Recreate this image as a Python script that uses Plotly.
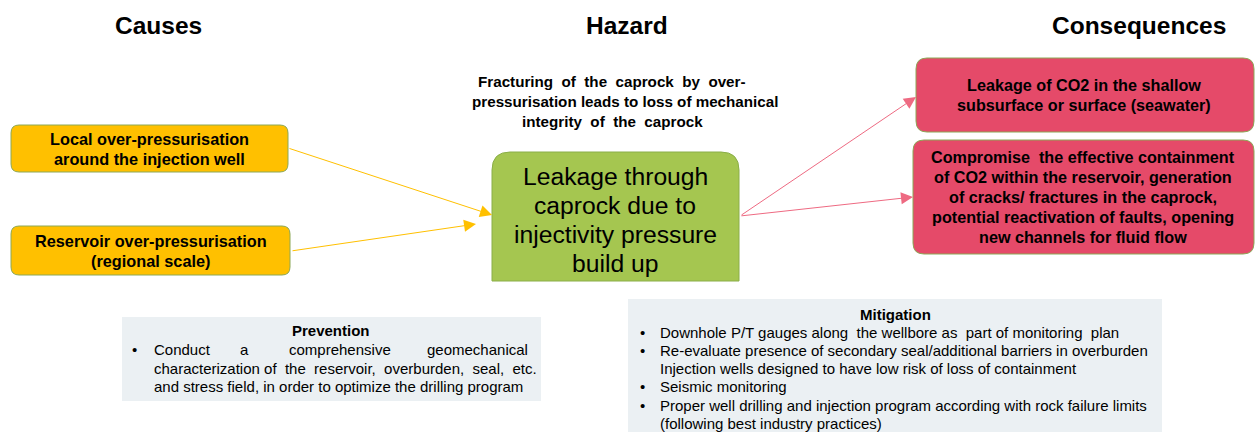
import plotly.graph_objects as go

W, H = 1256, 432
FONT = "Liberation Sans, Arial, sans-serif"

# ---- content ----
HEADERS = ["Causes", "Hazard", "Consequences"]
CAUSES = [
    ["Local over-pressurisation", "around the injection well"],
    ["Reservoir over-pressurisation", "(regional scale)"],
]
HAZARD_NOTE = [
    "Fracturing of the caprock by over-",
    "pressurisation leads to loss of mechanical",
    "integrity of the caprock",
]
TOP_EVENT = ["Leakage through", "caprock due to", "injectivity pressure", "build up"]
CONSEQUENCES = [
    ["Leakage of CO2 in the shallow", "subsurface or surface (seawater)"],
    ["Compromise  the effective containment",
     "of CO2 within the reservoir, generation",
     "of cracks/ fractures in the caprock,",
     "potential reactivation of faults, opening",
     "new channels for fluid flow"],
]
PREVENTION_TITLE = "Prevention"
PREVENTION_FIRST = ["Conduct", "a", "comprehensive", "geomechanical"]
PREVENTION_REST = [
    "characterization of the reservoir, overburden, seal, etc.",
    "and stress field, in order to optimize the drilling program",
]
MITIGATION_TITLE = "Mitigation"
MITIGATION = [
    ["Downhole P/T gauges along the wellbore as part of monitoring plan"],
    ["Re-evaluate presence of secondary seal/additional barriers in overburden",
     "Injection wells designed to have low risk of loss of containment"],
    ["Seismic monitoring"],
    ["Proper well drilling and injection program according with rock failure limits",
     "(following best industry practices)"],
]

# ---- layout (pixels, y down) ----
HEADER_X = [158, 627, 1139]
CAUSE_BOX = [(11, 125, 288, 172), (11, 226, 290, 275)]
TOP_BOX = (492, 152, 739, 281)
CONS_BOX = [(916, 58, 1254, 132), (913, 140, 1254, 254)]
PREV_BOX = (122, 317, 541, 401)
MIT_BOX = (628, 299, 1162, 440)

YELLOW, GREEN, RED, PANEL = "#FFC000", "#A5C650", "#E54A69", "#EBF0F3"
EDGE = "#8CA857"


def rrect(box, r, square_bottom=False):
    x0, y0, x1, y1 = box
    rb = 0 if square_bottom else r
    return (f"M{x0+r},{y0} L{x1-r},{y0} Q{x1},{y0} {x1},{y0+r} "
            f"L{x1},{y1-rb} Q{x1},{y1} {x1-rb},{y1} L{x0+rb},{y1} "
            f"Q{x0},{y1} {x0},{y1-rb} L{x0},{y0+r} Q{x0},{y0} {x0+r},{y0} Z")


def spread(text, extra):
    # widen word gaps a little (the source slide uses loose word spacing)
    words = text.split(" ")
    g = len(words) - 1
    if g <= 0 or extra <= 0:
        return text
    out = words[0]
    for i in range(g):
        add = (i + 1) * extra // g - i * extra // g
        out += " " * (1 + add) + words[i + 1]
    return out


fig = go.Figure()
shapes = []
ann = []


def label(x, y, text, size, bold=False, xanchor="center"):
    t = f"<b>{text}</b>" if bold else text
    ann.append(dict(x=x, y=y, text=t, showarrow=False, xanchor=xanchor,
                    yanchor="middle", font=dict(family=FONT, size=size, color="#000")))


def block(lines, x, y0, dy, size, bold=False):
    for i, ln in enumerate(lines):
        label(x, y0 + i * dy, ln, size, bold)


def arrow(tail, tip, color):
    ann.append(dict(x=tip[0], y=tip[1], ax=tail[0], ay=tail[1], xref="x", yref="y",
                    axref="x", ayref="y", text="", showarrow=True, arrowhead=2,
                    arrowsize=2.4, arrowwidth=1, arrowcolor=color, standoff=0))


# headers
for name, x in zip(HEADERS, HEADER_X):
    label(x, 25, name, 24.5, bold=True)

# causes
for box, lines in zip(CAUSE_BOX, CAUSES):
    shapes.append(dict(type="path", path=rrect(box, 8), fillcolor=YELLOW,
                       line=dict(color=EDGE, width=1), layer="below"))
    cy = (box[1] + box[3]) / 2
    block(lines, (box[0] + box[2]) / 2, cy - 9.5, 19.5, 16.3, bold=True)

# hazard note + top event
for ln, x, y, ex in zip(HAZARD_NOTE, [612, 625, 612], [81, 101, 121], [5, 0, 3]):
    label(x, y, spread(ln, ex), 15.2, bold=True)
shapes.append(dict(type="path", path=rrect(TOP_BOX, 18, square_bottom=True),
                   fillcolor=GREEN, line=dict(color="#8AAE48", width=1), layer="below"))
block(TOP_EVENT, 615, 176, 29, 24.7)

# consequences
for box, lines in zip(CONS_BOX, CONSEQUENCES):
    shapes.append(dict(type="path", path=rrect(box, 11), fillcolor=RED,
                       line=dict(color=EDGE, width=1), layer="below"))
    cy = (box[1] + box[3]) / 2
    n = len(lines)
    block(lines, (box[0] + box[2]) / 2 - 1, cy - (n - 1) * 10, 20, 16.2, bold=True)

# arrows
arrow((288, 148), (492, 215), YELLOW)
arrow((291, 251), (476, 224), YELLOW)
arrow((740, 216), (916, 97), "#EE6A82")
arrow((740, 216), (913, 197), "#EE6A82")

# prevention panel
shapes.append(dict(type="rect", x0=PREV_BOX[0], y0=PREV_BOX[1], x1=PREV_BOX[2], y1=PREV_BOX[3],
                   fillcolor=PANEL, line=dict(width=0), layer="below"))
label(331, 330, PREVENTION_TITLE, 15, bold=True)
label(134, 349, "•", 15)
for w, x, xa in zip(PREVENTION_FIRST, [152, 244, 340, 530], ["left", "center", "center", "right"]):
    label(x, 349, w, 15, xanchor=xa)
for i, (ln, ex) in enumerate(zip(PREVENTION_REST, [5, 0])):
    label(152, 368 + i * 18.5, spread(ln, ex), 15, xanchor="left")

# mitigation panel
shapes.append(dict(type="rect", x0=MIT_BOX[0], y0=MIT_BOX[1], x1=MIT_BOX[2], y1=MIT_BOX[3],
                   fillcolor=PANEL, line=dict(width=0), layer="below"))
label(895, 314, MITIGATION_TITLE, 15, bold=True)
extras = [3, 0, 0, 0, 0, 0]
row = 0
for item in MITIGATION:
    for j, ln in enumerate(item):
        y = 332 + row * 18.3
        if j == 0:
            label(642, y, "•", 15)
        label(658, y, spread(ln, extras[row]), 15, xanchor="left")
        row += 1

fig.update_layout(
    width=W, height=H, margin=dict(l=0, r=0, t=0, b=0),
    paper_bgcolor="white", plot_bgcolor="white", showlegend=False,
    xaxis=dict(range=[0, W], visible=False, fixedrange=True),
    yaxis=dict(range=[H, 0], visible=False, fixedrange=True),
    shapes=shapes, annotations=ann,
)
fig.write_html("out.html", config={"displayModeBar": False},
               post_script="document.body.style.margin='0';")
